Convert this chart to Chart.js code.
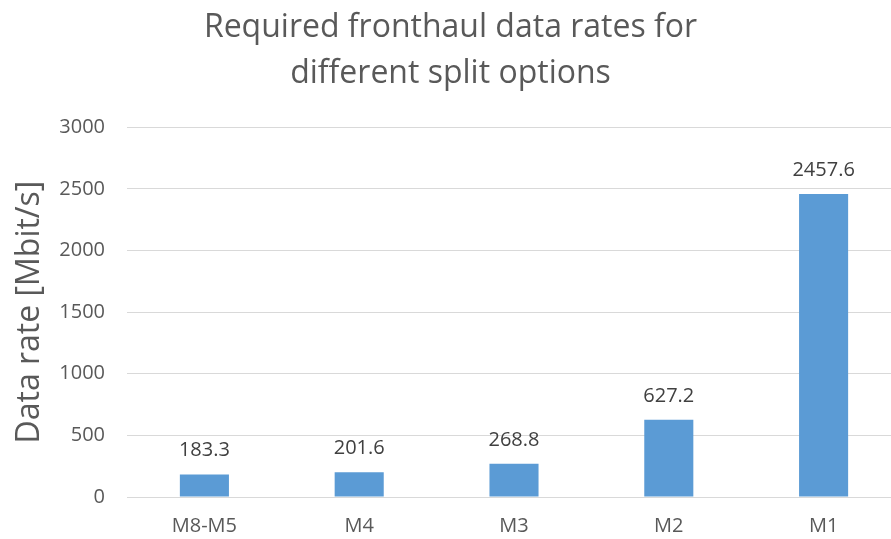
<!DOCTYPE html>
<html>
<head>
<meta charset="utf-8">
<script src="https://cdn.jsdelivr.net/npm/chart.js@4/dist/chart.umd.min.js"></script>
<style>
html,body{margin:0;padding:0;background:#fff;overflow:hidden;}
#wrap{width:901px;height:539px;position:relative;}
</style>
</head>
<body>
<div id="wrap"><canvas id="c" width="901" height="539"></canvas></div>
<script>
const categories = ["M8-M5", "M4", "M3", "M2", "M1"];
const dataRates = [183.3, 201.6, 268.8, 627.2, 2457.6];
const yTicks = [0, 500, 1000, 1500, 2000, 2500, 3000];
const titleLines = ["Required fronthaul data rates for", "different split options"];
const yAxisTitle = "Data rate [Mbit/s]";

const FONT = "'Open Sans', sans-serif";

const valueLabels = {
  id: 'valueLabels',
  afterDatasetsDraw(chart) {
    const ctx = chart.ctx;
    const meta = chart.getDatasetMeta(0);
    ctx.save();
    ctx.font = "20px " + FONT;
    ctx.fillStyle = "#404040";
    ctx.textAlign = "center";
    ctx.textBaseline = "alphabetic";
    meta.data.forEach((bar, i) => {
      ctx.fillText(String(dataRates[i]), bar.x, bar.y - 18);
    });
    ctx.restore();
  }
};

new Chart(document.getElementById('c'), {
  type: 'bar',
  data: {
    labels: categories,
    datasets: [{
      data: dataRates,
      backgroundColor: '#5B9BD5',
      borderWidth: 0,
      barPercentage: 0.317,
      categoryPercentage: 1.0
    }]
  },
  options: {
    responsive: false,
    animation: false,
    layout: { padding: 0 },
    plugins: {
      legend: { display: false },
      tooltip: { enabled: false },
      title: {
        display: true,
        text: titleLines,
        color: '#595959',
        font: { family: FONT, size: 32, weight: 'normal', lineHeight: 1.44 },
        padding: { top: 5, bottom: 30 }
      }
    },
    scales: {
      x: {
        grid: { display: false, drawTicks: false },
        border: { display: false },
        ticks: { color: '#595959', font: { family: FONT, size: 20 }, padding: 17 },
        afterFit(s) { s.height = 42; }
      },
      y: {
        min: 0, max: 3000,
        afterBuildTicks(s) { s.ticks = yTicks.map(v => ({ value: v })); },
        grid: { color: '#D9D9D9', lineWidth: 1, drawTicks: false },
        border: { display: false },
        ticks: {
          color: '#595959', font: { family: FONT, size: 20 }, padding: 22,
          callback: (v) => String(v)
        },
        title: {
          display: true, text: yAxisTitle, color: '#595959',
          font: { family: FONT, size: 32 }, padding: { top: 11, bottom: 0 }
        },
        afterFit(s) { s.width = 127; }
      }
    }
  },
  plugins: [valueLabels]
});
</script>
</body>
</html>
